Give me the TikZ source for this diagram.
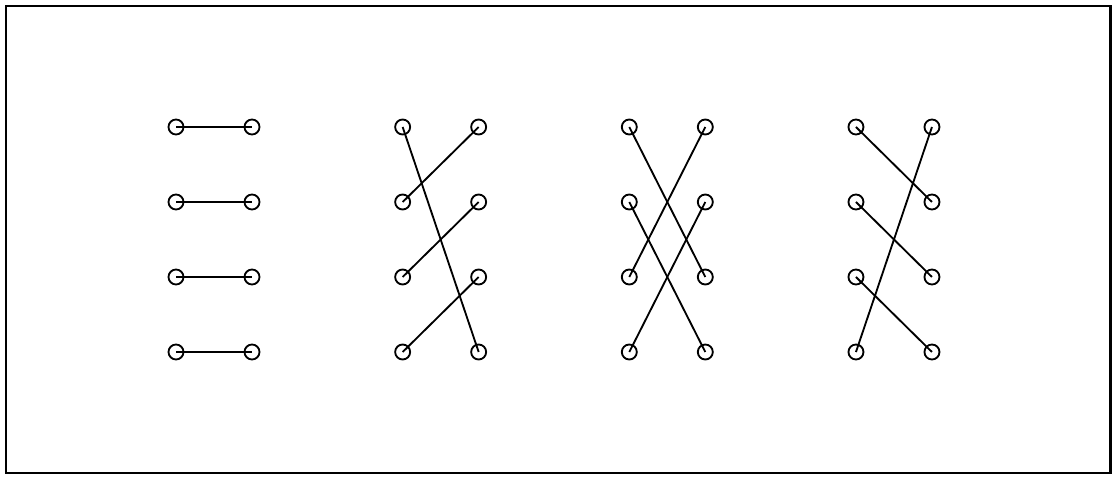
\documentclass[tikz,border=0pt]{standalone}
\usepackage{tikz}
\usetikzlibrary{calc}

\begin{document}
\begin{tikzpicture}[line width=1.05pt, vertice/.style={circle, draw, inner sep=0pt, minimum size=0.3cm}]
	\useasboundingbox (0,0) rectangle (22.26,9.52);
	\draw[line width=1.5pt] (0.12,0.06) rectangle (22.21,9.40);
	\foreach \a/\b/\c/\d [count=\g] in {1/2/3/4, 4/1/2/3, 3/4/1/2, 2/3/4/1}{
		\foreach \i in {1,...,4}{
			\node[vertice] (l\g\i) at ({3.52+4.533*(\g-1)}, {6.98-1.5*(\i-1)}) {};
			\node[vertice] (r\g\i) at ({5.04+4.533*(\g-1)}, {6.98-1.5*(\i-1)}) {};
		}
		\foreach \j [count=\i] in {\a,\b,\c,\d}
			\draw (l\g\i.center) -- (r\g\j.center);
	}
\end{tikzpicture}
\end{document}
